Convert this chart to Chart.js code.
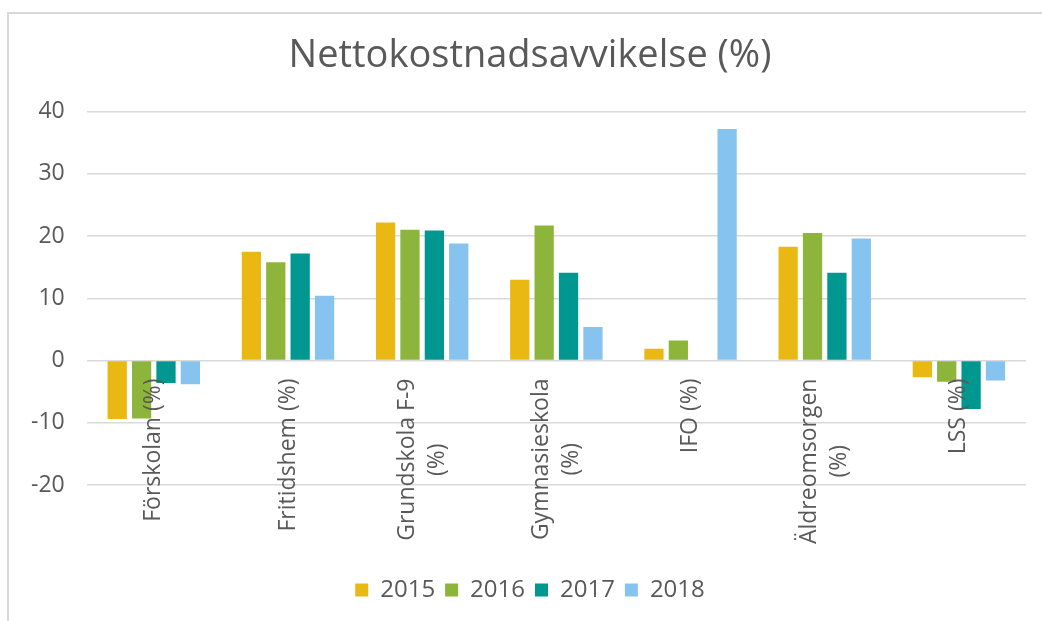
<!DOCTYPE html>
<html>
<head>
<meta charset="utf-8">
<title>Nettokostnadsavvikelse (%)</title>
<script src="https://cdn.jsdelivr.net/npm/chart.js@4.4.1/dist/chart.umd.min.js"></script>
<style>
  html, body { margin: 0; padding: 0; background: #fff; overflow: hidden; }
  #frame { position: absolute; left: 7px; top: 12px; border-left: 2px solid #d9d9d9; border-top: 2px solid #d9d9d9; }
  canvas { display: block; }
</style>
</head>
<body>
<div id="frame"><canvas id="chart" width="1042" height="607"></canvas></div>
<script>
const categories = [
  ["Förskolan (%)"],
  ["Fritidshem (%)"],
  ["Grundskola F-9", "(%)"],
  ["Gymnasieskola", "(%)"],
  ["IFO (%)"],
  ["Äldreomsorgen", "(%)"],
  ["LSS (%)"]
];
const years = ["2015", "2016", "2017", "2018"];
const values2015 = [-9.4, 17.5, 22.2, 13.0, 1.9, 18.3, -2.7];
const values2016 = [-9.3, 15.8, 21.0, 21.7, 3.2, 20.5, -3.4];
const values2017 = [-3.6, 17.2, 20.9, 14.1, null, 14.1, -7.8];
const values2018 = [-3.8, 10.4, 18.8, 5.4, 37.2, 19.6, -3.2];
const yTicks = [-20, -10, 0, 10, 20, 30, 40];

const colors = ["#eab813", "#8db53c", "#009790", "#86c3ef"];
const textColor = "#595959";
const fontFamily = "'Open Sans', sans-serif";

Chart.defaults.font.family = fontFamily;
Chart.defaults.color = textColor;

// category labels sit just under the zero line, lines centred like Excel does it
const categoryLabels = {
  id: "categoryLabels",
  afterDatasetsDraw(chart) {
    const { ctx, scales: { x, y } } = chart;
    const top = y.getPixelForValue(0) + 18;
    const lineHeight = 30;
    ctx.save();
    ctx.font = "23px " + fontFamily;
    ctx.fillStyle = textColor;
    ctx.textAlign = "center";
    ctx.textBaseline = "middle";
    categories.forEach((lines, i) => {
      const cx = x.getPixelForTick(i);
      const longest = Math.max(...lines.map(l => ctx.measureText(l).width));
      lines.forEach((line, j) => {
        const offset = (j - (lines.length - 1) / 2) * lineHeight;
        ctx.save();
        ctx.translate(cx + offset, top + longest / 2);
        ctx.rotate(-Math.PI / 2);
        ctx.fillText(line, 0, 0);
        ctx.restore();
      });
    });
    ctx.restore();
  }
};

new Chart(document.getElementById("chart"), {
  type: "bar",
  data: {
    labels: categories,
    datasets: [values2015, values2016, values2017, values2018].map((values, i) => ({
      label: years[i],
      data: values,
      backgroundColor: colors[i],
      borderWidth: 0
    }))
  },
  options: {
    responsive: false,
    animation: false,
    devicePixelRatio: 1,
    categoryPercentage: 0.727,
    barPercentage: 0.79,
    layout: { padding: { left: 0, right: 0, bottom: 9 } },
    plugins: {
      title: {
        display: true,
        text: "Nettokostnadsavvikelse (%)",
        color: textColor,
        font: { size: 38, weight: "normal" },
        padding: { top: 19, bottom: 33 }
      },
      legend: {
        position: "bottom",
        labels: { boxWidth: 13, boxHeight: 13, padding: 10, font: { size: 24 }, color: textColor }
      },
      tooltip: { enabled: false }
    },
    scales: {
      x: {
        grid: { display: false },
        border: { display: false },
        ticks: { display: false },
        afterFit: (scale) => { scale.height = 83; }
      },
      y: {
        min: -20,
        max: 40,
        afterBuildTicks: (scale) => { scale.ticks = yTicks.map(v => ({ value: v })); },
        grid: { color: "#d9d9d9", lineWidth: 1.5, drawTicks: false },
        border: { display: false },
        ticks: { font: { size: 23 }, color: textColor, padding: 22 }
      },
      // empty right-hand strip, keeps the plot clear of the edge while title and legend stay centred
      spacer: {
        type: "linear",
        position: "right",
        grid: { display: false },
        border: { display: false },
        ticks: { display: false },
        afterFit: (scale) => { scale.width = 25; }
      }
    }
  },
  plugins: [categoryLabels]
});
</script>
</body>
</html>
